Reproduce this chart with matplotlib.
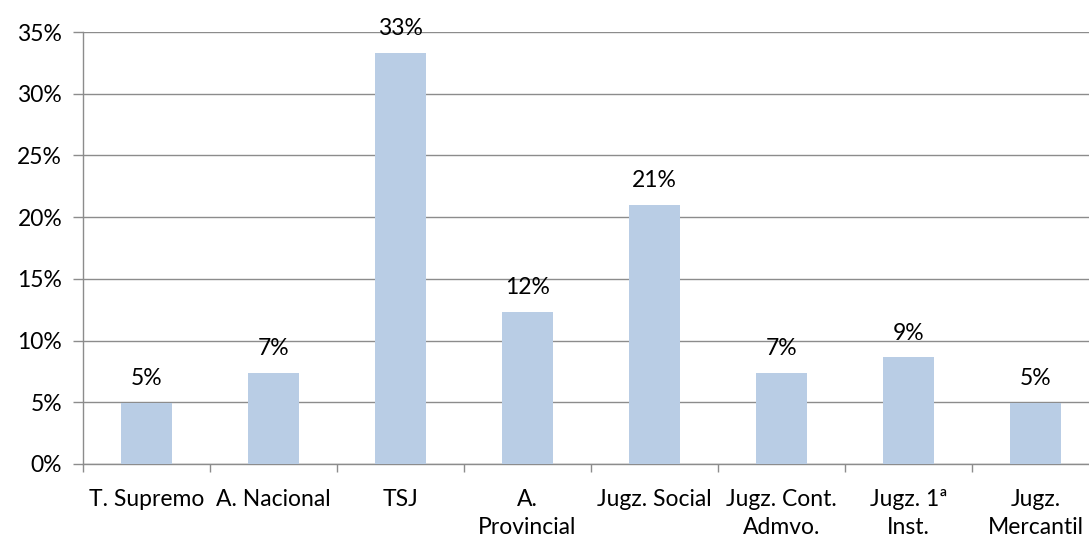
import matplotlib
matplotlib.use("Agg")
import matplotlib.pyplot as plt
from matplotlib.ticker import FuncFormatter, MultipleLocator

categories = ["T. Supremo", "A. Nacional", "TSJ", "A.\nProvincial", "Jugz. Social",
              "Jugz. Cont.\nAdmvo.", "Jugz. 1ª\nInst.", "Jugz.\nMercantil"]
values = [4.94, 7.41, 33.33, 12.35, 20.99, 7.41, 8.64, 4.94]
labels = ["5%", "7%", "33%", "12%", "21%", "7%", "9%", "5%"]

plt.rcParams['font.family'] = ['Lato', 'DejaVu Sans']
FS = 16.5
fig = plt.figure(figsize=(10.89, 5.41), dpi=100)
ax = fig.add_axes([83/1089, 1-464/541, 1016/1089, (464-32)/541])

x = list(range(len(categories)))
bars = ax.bar(x, values, width=0.4, color="#b9cde5", zorder=3)
for xi, v, lab in zip(x, values, labels):
    ax.text(xi, v + 1.1, lab, ha="center", va="bottom", fontsize=FS, color="black")

ax.set_xlim(-0.5, len(categories) - 0.5)
ax.set_ylim(0, 35)
ax.yaxis.set_major_locator(MultipleLocator(5))
ax.yaxis.set_major_formatter(FuncFormatter(lambda v, p: f"{int(round(v))}%"))
ax.grid(axis="y", color="#8c8c8c", linewidth=1.0, zorder=0)
ax.set_axisbelow(True)

ax.set_xticks(x)
ax.set_xticklabels(categories, fontsize=FS, linespacing=1.4)
ax.set_xticks([i - 0.5 for i in range(len(categories) + 1)], minor=True)
ax.tick_params(axis="x", which="major", length=0, pad=18)
ax.tick_params(axis="x", which="minor", length=6, color="#8c8c8c", width=1)
ax.tick_params(axis="y", length=7, color="#8c8c8c", width=1, labelsize=FS, pad=8)

for s in ["top", "right"]:
    ax.spines[s].set_visible(False)
for s in ["left", "bottom"]:
    ax.spines[s].set_color("#8c8c8c")
    ax.spines[s].set_linewidth(1)

fig.savefig("out.png", dpi=100)
